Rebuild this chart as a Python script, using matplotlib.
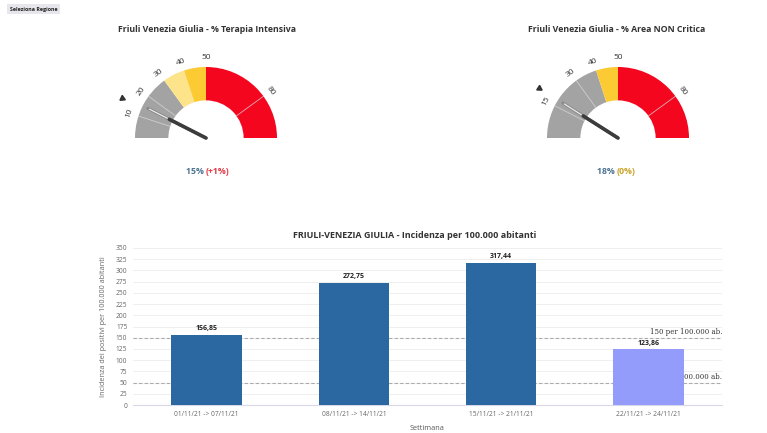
import numpy as np
import matplotlib
matplotlib.use("Agg")
import matplotlib.pyplot as plt
from matplotlib.patches import Wedge

plt.rcParams["font.family"] = ["Open Sans", "DejaVu Sans"]

# ---- dati ----
regione = "Friuli Venezia Giulia"

ti_bande = [0, 30, 40, 50, 100]
ti_colori = ["#a3a3a3", "#fde38a", "#fccb33", "#f4061f"]
ti_tacche = [10, 20, 30, 40, 50, 80]
ti_valore = 15
ti_precedente = 14
ti_delta = "(+1%)"

anc_bande = [0, 40, 50, 100]
anc_colori = ["#a3a3a3", "#fccb33", "#f4061f"]
anc_tacche = [15, 30, 40, 50, 80]
anc_valore = 18
anc_precedente = 18
anc_delta = "(0%)"

settimane = ["01/11/21 -> 07/11/21", "08/11/21 -> 14/11/21",
             "15/11/21 -> 21/11/21", "22/11/21 -> 24/11/21"]
incidenza = [156.85, 272.75, 317.44, 123.86]
soglie = [150, 50]

TEXT = "#333333"
W, H = 767, 433
R_IN = 0.53


def gauge(fig, cx, cy, r_px, bande, colori, tacche, valore, precedente):
    # assi cartesiani: 1 unità = raggio esterno del quadrante
    ax = fig.add_axes([(cx - 1.5 * r_px) / W, 1 - (cy + 0.3 * r_px) / H,
                       3 * r_px / W, 1.8 * r_px / H])
    ax.set_xlim(-1.5, 1.5)
    ax.set_ylim(-0.3, 1.5)
    ax.set_axis_off()
    ang = lambda v: 180 - v * 1.8
    pol = lambda v, r: (r * np.cos(np.deg2rad(ang(v))), r * np.sin(np.deg2rad(ang(v))))

    for a, b, c in zip(bande[:-1], bande[1:], colori):
        ax.add_patch(Wedge((0, 0), 1.0, ang(b), ang(a), width=1 - R_IN,
                           facecolor=c, edgecolor="none"))
    for t in tacche:
        if t not in bande:
            (x0, y0), (x1, y1) = pol(t, R_IN), pol(t, 1.0)
            ax.plot([x0, x1], [y0, y1], color="#d9d9d9", lw=0.6, alpha=0.8)
        lx, ly = pol(t, 1.13)
        ax.text(lx, ly, str(t), rotation=ang(t) - 90, ha="center", va="center",
                fontsize=6, color=TEXT, rotation_mode="anchor")

    # marker settimana precedente
    mx, my = pol(precedente, 1.31)
    ax.plot(mx, my, marker=(3, 0, ang(precedente) + 90), markersize=4.5,
            color="#333333")

    # lancetta
    tx, ty = pol(valore, 0.92)
    mx2, my2 = pol(valore, 0.58)
    sx, sy = pol(valore, 0.56)
    ax.plot([0, tx], [0, ty], color="#8a8a8a", lw=2.2, solid_capstyle="round")
    ax.plot([sx, tx * 0.97], [sy, ty * 0.97], color="#f2f2f2", lw=0.8)
    ax.plot([0, mx2], [0, my2], color="#3c3c3c", lw=2.6, solid_capstyle="round")
    return ax


fig = plt.figure(figsize=(W / 100, H / 100), dpi=100)

# bottone
fig.text(10 / W, 1 - 9 / H, "Seleziona Regione", fontsize=3.8, fontweight="bold",
         color="#222222", va="center", ha="left",
         bbox=dict(boxstyle="square,pad=0.5", fc="#e6e6ec", ec="none"))

# gauge terapia intensiva
gauge(fig, 206, 138, 71, ti_bande, ti_colori, ti_tacche, ti_valore, ti_precedente)
fig.text(207 / W, 1 - 30 / H, f"{regione} - % Terapia Intensiva",
         fontsize=6.3, fontweight="bold", color="#333333", ha="center", va="center")
fig.text(206 / W, 1 - 171 / H, f"{ti_valore}% ", fontsize=6.3, fontweight="bold",
         color="#4d7391", ha="right", va="center")
fig.text(206 / W, 1 - 171 / H, ti_delta, fontsize=6.3, fontweight="bold",
         color="#e23a45", ha="left", va="center")

# gauge area non critica
gauge(fig, 618, 138, 71, anc_bande, anc_colori, anc_tacche, anc_valore, anc_precedente)
fig.text(617 / W, 1 - 30 / H, f"{regione} - % Area NON Critica",
         fontsize=6.3, fontweight="bold", color="#333333", ha="center", va="center")
fig.text(617 / W, 1 - 171 / H, f"{anc_valore}% ", fontsize=6.3, fontweight="bold",
         color="#4d7391", ha="right", va="center")
fig.text(617 / W, 1 - 171 / H, anc_delta, fontsize=6.3, fontweight="bold",
         color="#c9a227", ha="left", va="center")

# ---- grafico incidenza ----
ax = fig.add_axes([133 / W, 1 - 405 / H, 589 / W, 157 / H])
x = np.arange(len(settimane))
colori_barre = ["#2b67a0"] * 3 + ["#939bfb"]
ax.bar(x, incidenza, width=0.48, color=colori_barre, zorder=3)
for xi, v in zip(x, incidenza):
    ax.text(xi, v + 5, f"{v:.2f}".replace(".", ","), ha="center", va="bottom",
            fontsize=5, fontweight="bold", color="#222222", zorder=4)

for s in soglie:
    ax.axhline(s, color="#aaaaaa", lw=0.8, ls=(0, (3, 2)), zorder=2)
    ax.text(3.5, s + 4, f"{s} per 100.000 ab.", ha="right", va="bottom",
            fontsize=5, family="DejaVu Serif", color="#333333", zorder=1)

ax.set_xlim(-0.5, 3.5)
ax.set_ylim(0, 350)
ax.set_yticks(np.arange(0, 351, 25))
ax.set_xticks(x)
ax.set_xticklabels(settimane)
ax.grid(axis="y", color="#ececec", lw=0.6, zorder=0)
for sp in ax.spines.values():
    sp.set_visible(False)
ax.spines["bottom"].set_visible(True)
ax.spines["bottom"].set_color("#d8d8e8")
ax.tick_params(length=0, labelsize=4.8, colors="#666666", pad=4)
ax.set_ylabel("Incidenza dei positivi per 100.000 abitanti", fontsize=5.2,
              color="#666666", labelpad=6)
ax.set_xlabel("Settimana", fontsize=5.2, color="#555555", labelpad=5)
ax.set_title("FRIULI-VENEZIA GIULIA - Incidenza per 100.000 abitanti",
             fontsize=6.5, fontweight="bold", color="#333333", x=0.478, pad=7)

fig.savefig("out.png", dpi=100)
